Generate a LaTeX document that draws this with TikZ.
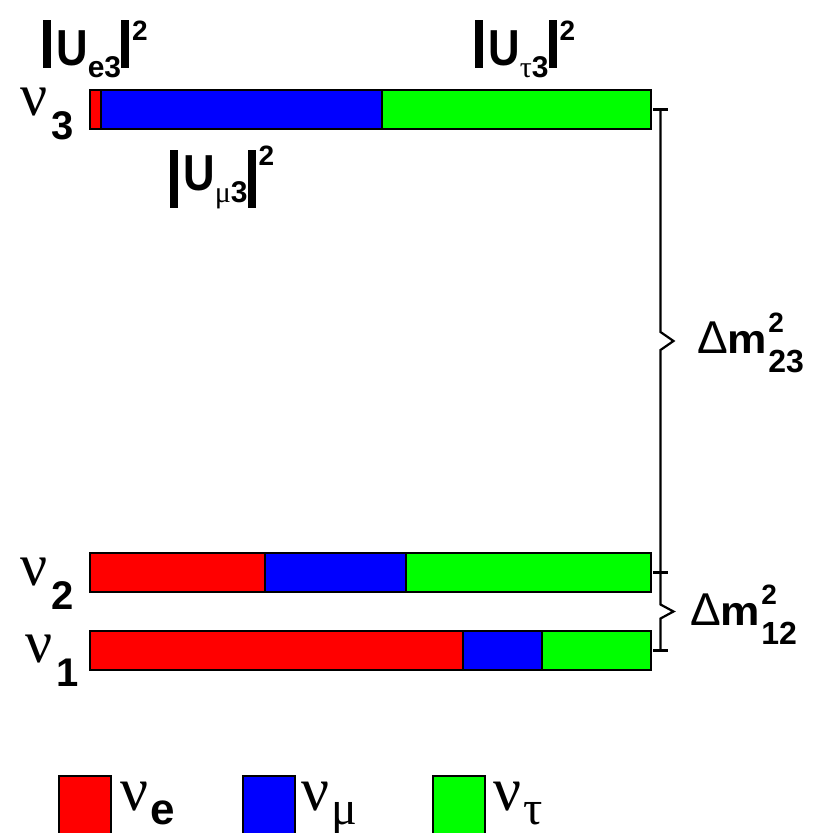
\documentclass[tikz,border=0pt]{standalone}
\usepackage{fontspec}
\usepackage{graphicx}
\setmainfont{Liberation Sans}
\newfontfamily\grk{Liberation Serif}
\usetikzlibrary{positioning, calc}
\definecolor{nured}{RGB}{255, 0, 0}
\definecolor{nublue}{RGB}{0, 0, 255}
\definecolor{nugreen}{RGB}{0, 255, 0}
\newcommand{\fs}[1]{\fontsize{#1}{#1}\selectfont}
\newcommand{\Umix}[3]{\rule[#1]{8pt}{#2}\hspace{5pt}\scalebox{0.95}[1.1]{\fs{46}U}\raisebox{-12pt}{\fs{30}#3}\rule[#1]{8pt}{#2}\hspace{3pt}\raisebox{25pt}{\fs{28}2}}
\newcommand{\dmsq}[1]{{\mdseries\fs{46}Δ}\scalebox{1.08}[1]{\fs{41}m}\rlap{\hspace{1pt}\raisebox{21pt}{\fs{28}2}}\hspace{1pt}\raisebox{-19pt}{\fs{32}#1}}
\newcommand{\nulab}[1]{{\grk\mdseries\fs{60}ν}\hspace{4pt}\raisebox{-24pt}{\fs{40}#1}}
\newcommand{\keylab}[1]{{\grk\mdseries\fs{62}ν}\hspace{2pt}\raisebox{-14pt}{#1}}

\begin{document}
\begin{tikzpicture}[
        x=1pt, y=-1pt,
        seg/.style={draw, line width=2.2pt, minimum height=39pt, inner sep=0pt, outer sep=0pt},
        key/.style={draw, line width=1.5pt, minimum width=52pt, minimum height=72pt,
                    inner sep=0pt, anchor=north west},
        lab/.style={anchor=base west, inner sep=0pt, font=\bfseries},
        brace/.style={line width=2.2pt}
      ]
        \useasboundingbox (0,0) rectangle (815,833);
        \node[seg, fill=nured, minimum width=11pt, anchor=north west] (b3e) at (90,90) {};
        \node[seg, fill=nublue, minimum width=281pt, right=0pt of b3e] (b3m) {};
        \node[seg, fill=nugreen, minimum width=269pt, right=0pt of b3m] (b3t) {};
        \node[seg, fill=nured, minimum width=175pt, anchor=north west] (b2e) at (90,553) {};
        \node[seg, fill=nublue, minimum width=141pt, right=0pt of b2e] (b2m) {};
        \node[seg, fill=nugreen, minimum width=245pt, right=0pt of b2m] (b2t) {};
        \node[seg, fill=nured, minimum width=373pt, anchor=north west] (b1e) at (90,631) {};
        \node[seg, fill=nublue, minimum width=79pt, right=0pt of b1e] (b1m) {};
        \node[seg, fill=nugreen, minimum width=109pt, right=0pt of b1m] (b1t) {};

        \node[lab] (nu3) at (20,115) {\nulab{3}};
        \node[lab] (nu2) at (20,585) {\nulab{2}};
        \node[lab] (nu1) at (25,662) {\nulab{1}};

        \node[lab] (ue3) at (43,65) {\Umix{-3pt}{48pt}{e3}};
        \node[lab] (ut3) at (475,65) {\Umix{-3pt}{48pt}{{\grk\mdseries τ}3}};
        \node[lab] (um3) at (170,190) {\Umix{-18pt}{58pt}{{\grk\mdseries μ}3}};

        \coordinate (r3) at ([xshift=9.5pt]b3t.east);
        \coordinate (r2) at ([xshift=9.5pt]b2t.east);
        \coordinate (r1) at ([xshift=9.5pt]b1t.east);
        \draw[brace] ([xshift=-7.5pt]r3) -- ([xshift=7.5pt]r3)
              ([xshift=-7.5pt]r2) -- ([xshift=7.5pt]r2)
              ([xshift=-7.5pt]r1) -- ([xshift=7.5pt]r1);
        \draw[brace] (r3) -- ($(r3)!0.5!(r2)+(0,-9)$) -- ++(13,9) -- ++(-13,9) -- (r2);
        \draw[brace] (r2) -- ($(r2)!0.5!(r1)+(0,-7)$) -- ++(13,7) -- ++(-13,7) -- (r1);
        \node[lab] (dm23) at (697,353) {\dmsq{23}};
        \node[lab] (dm12) at (690,625) {\dmsq{12}};

        \node[key, fill=nured] (keye) at (58,775) {};
        \node[key, fill=nublue] (keym) at (242,775) {};
        \node[key, fill=nugreen] (keyt) at (432,775) {};
        \node[lab] (labe) at (120,810) {\keylab{\fs{44}e}};
        \node[lab] (labm) at (301,810) {\keylab{\grk\mdseries\fs{48}μ}};
        \node[lab] (labt) at (493,810) {\keylab{\grk\mdseries\fs{48}τ}};
      \end{tikzpicture}
\end{document}
